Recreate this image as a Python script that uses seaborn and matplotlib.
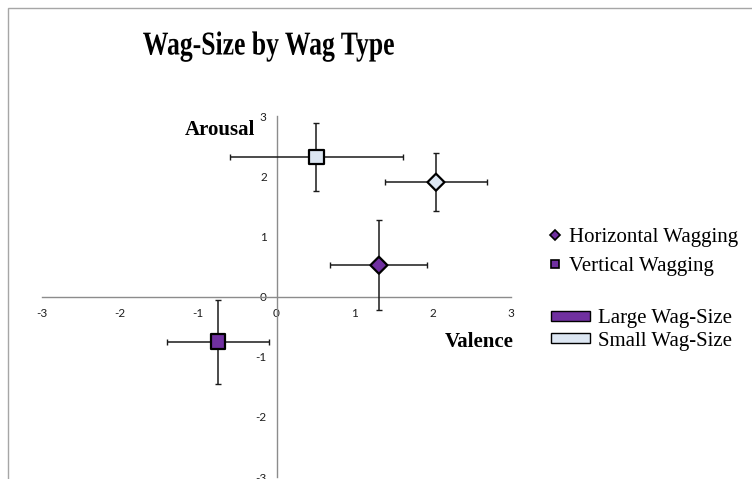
import matplotlib
matplotlib.use("Agg")
import matplotlib.pyplot as plt
from matplotlib.lines import Line2D
from matplotlib.patches import Patch, Rectangle
from matplotlib.patheffects import AbstractPathEffect
from matplotlib.transforms import Affine2D
import seaborn as sns
import pandas as pd

# values
wag_type = ["Horizontal", "Vertical", "Horizontal", "Vertical"]
wag_size = ["Large", "Large", "Small", "Small"]
valence = [1.31, -0.75, 2.04, 0.51]
arousal = [0.52, -0.75, 1.90, 2.32]
valence_err = [0.62, 0.65, 0.65, 1.11]
arousal_err = [0.75, 0.70, 0.48, 0.56]
ticks = [-3, -2, -1, 0, 1, 2, 3]

purple = "#7030A0"
light = "#DCE6F2"

df = pd.DataFrame({"type": wag_type, "size": wag_size,
                   "valence": valence, "arousal": arousal})

sns.set_style("white")
plt.rcParams["font.family"] = ["Liberation Serif", "DejaVu Serif"]
plt.rcParams["axes.unicode_minus"] = False
plt.rcParams["text.color"] = "black"

W, H = 752, 479


class Squeeze(AbstractPathEffect):
    # narrows the title glyphs horizontally around a centre x (pixels)
    def __init__(self, sx, cx):
        super().__init__()
        self.sx, self.cx = sx, cx

    def draw_path(self, renderer, gc, tpath, affine, rgbFace=None):
        affine = affine + Affine2D().translate(-self.cx, 0).scale(self.sx, 1).translate(self.cx, 0)
        renderer.draw_path(gc, tpath, affine, rgbFace)


fig = plt.figure(figsize=(W / 100, H / 100), dpi=100)
ax = fig.add_axes([42 / W, (H - 477) / H, (511 - 42) / W, (477 - 116) / H])
ax.patch.set_alpha(0)

ax.errorbar(valence, arousal, xerr=valence_err, yerr=arousal_err, fmt="none",
            ecolor="#1a1a1a", elinewidth=1.1, capsize=2.3, capthick=1.0, zorder=2)
sns.scatterplot(data=df, x="valence", y="arousal", hue="size", style="type",
                size="type", sizes={"Horizontal": 75, "Vertical": 112},
                markers={"Horizontal": "D", "Vertical": "s"},
                palette={"Large": purple, "Small": light},
                edgecolor="black", linewidth=1.6, legend=False, zorder=3, ax=ax)

ax.set_xlim(-3, 3)
ax.set_ylim(-3, 3)
ax.set_xticks(ticks)
ax.set_yticks(ticks)
ax.set_xlabel("")
ax.set_ylabel("")
for s in ["top", "right"]:
    ax.spines[s].set_visible(False)
for s in ["left", "bottom"]:
    ax.spines[s].set_position(("data", 0))
    ax.spines[s].set_color("#8c8c8c")
    ax.spines[s].set_linewidth(1.0)
    ax.spines[s].set_zorder(1)
ax.tick_params(axis="both", direction="out", length=3, width=1, color="#8c8c8c",
               labelsize=8.5, labelcolor="#1f1f1f")
ax.tick_params(axis="x", pad=5)
ax.tick_params(axis="y", pad=4)
for lab in ax.get_xticklabels() + ax.get_yticklabels():
    lab.set_family(["Lato", "DejaVu Sans"])

ax.text(-0.27, 2.68, "Arousal", ha="right", va="baseline", fontsize=15,
        fontweight="bold", color="black")
ax.text(3.03, -0.75, "Valence", ha="right", va="center", fontsize=15,
        fontweight="bold", color="black")

fig.text(269 / W, (H - 46) / H, "Wag-Size by Wag Type", ha="center", va="center",
         fontsize=24, fontweight="bold", color="black", path_effects=[Squeeze(0.77, 269)])

# chart border (cropped at right and bottom)
fig.patches.append(Rectangle((7.5 / W, -0.1), 2, (H - 8) / H + 0.1, transform=fig.transFigure,
                             fill=False, edgecolor="#a6a6a6", linewidth=1.0))

type_handles = [
    Line2D([], [], marker="D", linestyle="none", markersize=5.2, markerfacecolor=purple,
           markeredgecolor="black", markeredgewidth=1.2, label="Horizontal Wagging"),
    Line2D([], [], marker="s", linestyle="none", markersize=5.8, markerfacecolor=purple,
           markeredgecolor="black", markeredgewidth=1.2, label="Vertical Wagging"),
]
size_handles = [
    Patch(facecolor=purple, edgecolor="black", linewidth=1.0, label="Large Wag-Size"),
    Patch(facecolor=light, edgecolor="black", linewidth=1.0, label="Small Wag-Size"),
]
leg1 = fig.legend(handles=type_handles, loc="center left", frameon=False, fontsize=15,
                  bbox_to_anchor=(547 / W, (H - 252) / H), handlelength=0.75,
                  handletextpad=0.3, labelspacing=0.45, borderpad=0, borderaxespad=0)
leg2 = fig.legend(handles=size_handles, loc="center left", frameon=False, fontsize=15,
                  bbox_to_anchor=(551 / W, (H - 330) / H), handlelength=1.85,
                  handleheight=0.38, handletextpad=0.42, labelspacing=0.15,
                  borderpad=0, borderaxespad=0)
for leg in (leg1, leg2):
    for t in leg.get_texts():
        t.set_color("black")

fig.savefig("out.png", dpi=100)
